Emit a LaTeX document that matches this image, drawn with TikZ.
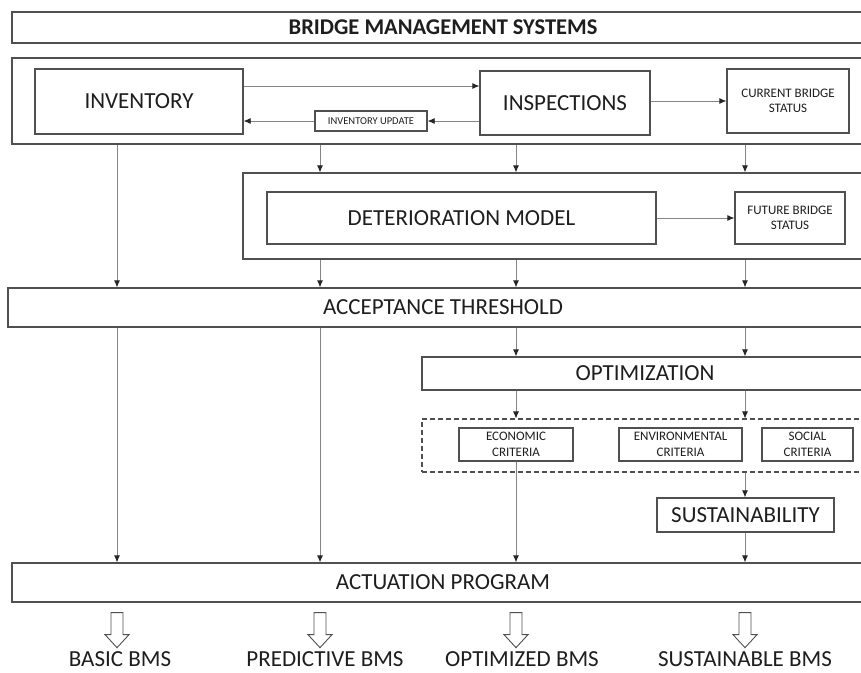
\documentclass[tikz,border=0pt]{standalone}
\usepackage{fontspec}
\setmainfont{Carlito}
\usetikzlibrary{arrows.meta,positioning,calc}
\definecolor{boxc}{HTML}{505050}
\definecolor{arrc}{HTML}{858585}
\definecolor{txtc}{HTML}{1E1E1E}

\begin{document}
\begin{tikzpicture}[x=1pt,y=-1pt,
    box/.style={draw=boxc,line width=1.3pt,text=txtc,inner sep=0pt,align=center},
    big/.style={font=\fontsize{23}{25}\selectfont},
    small/.style={font=\fontsize{13}{15.5}\selectfont},
    arr/.style={draw=arrc,line width=0.8pt,-{Latex[length=7pt,width=6pt,color=black!85]}},
    hollow/.style={draw=boxc,line width=0.9pt,fill=white}]
  \clip (0,0) rectangle (861,672);
  \fill[white] (0,0) rectangle (861,672);
  % frames
  \node[box,font=\bfseries\fontsize{22.5}{24}\selectfont,minimum width=862,minimum height=31] (bms) at (443,27.5) {BRIDGE MANAGEMENT SYSTEMS};
  \node[box,minimum width=862,minimum height=86] (topf) at (443,101) {};
  \node[box,minimum width=637,minimum height=86] (detf) at (561.5,216) {};
  \node[box,big,minimum width=870,minimum height=39] (acc) at (443,307.5) {ACCEPTANCE THRESHOLD};
  \node[box,big,minimum width=446,minimum height=33] (opt) at (645,373.5) {OPTIMIZATION};
  \node[box,dash pattern=on 5pt off 3pt,line width=1.1pt,minimum width=448,minimum height=53] (crit) at (646,445.5) {};
  \node[box,big,minimum width=862,minimum height=39] (act) at (443,582.5) {ACTUATION PROGRAM};
  % inner boxes
  \node[box,big,minimum width=208,minimum height=65] (inv) at (139,101.5) {INVENTORY};
  \node[box,big,minimum width=170,minimum height=64] (insp) at (565,103) {INSPECTIONS};
  \node[box,small,minimum width=122,minimum height=64] (cur) at (788,101) {CURRENT BRIDGE\\STATUS};
  \node[box,font=\fontsize{10.5}{12}\selectfont,minimum width=112,minimum height=20] (upd) at (371,121) {INVENTORY UPDATE};
  \node[box,big,minimum width=389,minimum height=52] (det) at (461.5,218) {DETERIORATION MODEL};
  \node[box,small,minimum width=110,minimum height=52] (fut) at (790,218) {FUTURE BRIDGE\\STATUS};
  \node[box,small,minimum width=114,minimum height=33] (eco) at (516,444.5) {ECONOMIC\\CRITERIA};
  \node[box,small,minimum width=123,minimum height=33] (env) at (680.5,444.5) {ENVIRONMENTAL\\CRITERIA};
  \node[box,small,minimum width=91,minimum height=33] (soc) at (807.5,444.5) {SOCIAL\\CRITERIA};
  \node[box,big,minimum width=177,minimum height=34] (sus) at (745.5,515) {SUSTAINABILITY};
  % connectors
  \coordinate (r1) at (0,86);
  \draw[arr] (inv.east |- r1) -- (insp.west |- r1);
  \draw[arr] (insp.east |- cur.west) -- (cur.west);
  \draw[arr] (insp.west |- upd.east) -- (upd.east);
  \draw[arr] (upd.west) -- (upd.west -| inv.east);
  \draw[arr] (det.east) -- (fut.west);
  \coordinate (c1) at (117,0);
  \coordinate (c2) at (320,0);
  \coordinate (c3) at (516,0);
  \coordinate (c4) at (745,0);
  \draw[arr] (c1 |- topf.south) -- (c1 |- acc.north);
  \foreach \c in {c2,c3,c4} {
    \draw[arr] (\c |- topf.south) -- (\c |- detf.north);
    \draw[arr] (\c |- detf.south) -- (\c |- acc.north);
  }
  \foreach \c in {c1,c2}
    \draw[arr] (\c |- acc.south) -- (\c |- act.north);
  \foreach \c in {c3,c4} {
    \draw[arr] (\c |- acc.south) -- (\c |- opt.north);
    \draw[arr] (\c |- opt.south) -- (\c |- crit.north);
  }
  \draw[arr] (eco.south) -- (c3 |- act.north);
  \draw[arr] (c4 |- crit.south) -- (sus.north -| c4);
  \draw[arr] (sus.south -| c4) -- (c4 |- act.north);
  % results
  \foreach \n/\c/\x/\lab in {basic/c1/120/BASIC BMS, pred/c2/325/PREDICTIVE BMS, optb/c3/522/OPTIMIZED BMS, susb/c4/745/SUSTAINABLE BMS} {
    \node[big,text=txtc,anchor=base,inner sep=0pt] (\n) at (\x,666.5) {\lab};
    \draw[hollow] ($(\c |- act.south)+(-6,10)$) -- ++(0,22) -- ++(-6,0) -- ++(12,13) -- ++(12,-13) -- ++(-6,0) -- ++(0,-22) -- cycle;
  }
\end{tikzpicture}
\end{document}
